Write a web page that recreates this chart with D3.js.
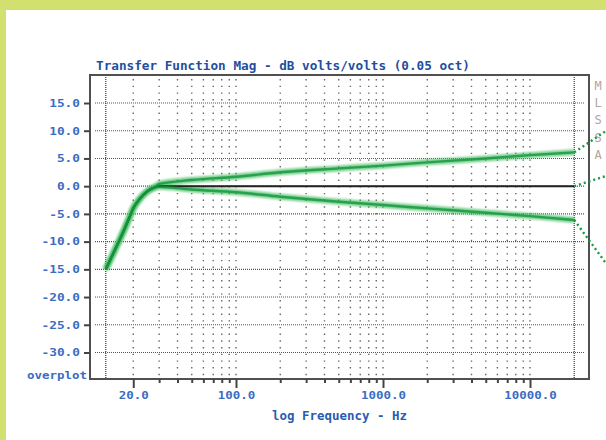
<!DOCTYPE html>
<html>
<head>
<meta charset="utf-8">
<script src="https://cdn.jsdelivr.net/npm/d3@7/dist/d3.min.js"></script>
<style>
  body { margin: 0; background: #d1e06f; }
  #chart { width: 606px; height: 440px; }
</style>
</head>
<body>
<div id="chart"></div>
<script>
var width = 606,
    height = 440;

// y ticks (dB) and x grid / labelled frequencies (Hz)
var yTicks = [15, 10, 5, 0, -5, -10, -15, -20, -25, -30];
var gridFreqs = [20, 30, 40, 50, 60, 70, 80, 90, 100,
    200, 300, 400, 500, 600, 700, 800, 900, 1000,
    2000, 3000, 4000, 5000, 6000, 7000, 8000, 9000, 10000];
var majorFreqs = [20, 100, 1000, 10000];
var majorLabels = ["20.0", "100.0", "1000.0", "10000.0"];
var sweepStart = 13, sweepEnd = 20000;

// low end roll-off shared by the three traces
var rollFreq = [13, 15, 17, 19, 20, 22, 25, 28];
var rollDb = [-15, -11.5, -8.4, -5.4, -4.0, -2.4, -0.9, -0.2];

// the two tilted traces and the flat one
var tiltFreq = [30, 50, 100, 200, 500, 1000, 2000, 5000, 10000, 20000];
var upperDb = [0.4, 1.1, 1.7, 2.5, 3.2, 3.7, 4.3, 5.0, 5.6, 6.1];
var lowerDb = [-0.1, -0.6, -1.1, -1.9, -2.8, -3.4, -4.0, -4.8, -5.4, -6.1];
var flatDb = [0, 0, 0, 0, 0, 0, 0, 0, 0, 0];

var yLabels = ["M", "L", "S", "S", "A"];

var svg = d3.select("#chart").append("svg")
    .attr("width", width)
    .attr("height", height);

var defs = svg.append("defs");
defs.append("filter").attr("id", "glow")
    .attr("x", "-10%").attr("y", "-10%").attr("width", "120%").attr("height", "120%")
    .append("feGaussianBlur").attr("stdDeviation", 1.2);

// white panel on the green page
svg.append("rect")
    .attr("x", 6).attr("y", 10)
    .attr("width", width - 6).attr("height", height - 10)
    .attr("fill", "#ffffff");

var x = d3.scaleLog().domain([100, 10000]).range([236, 530]);
var y = d3.scaleLinear().domain([15, -30]).range([103, 352.5]);

var plotLeft = 90, plotRight = 589, plotTop = 75, plotBottom = 379;
var mono = "'DejaVu Sans Mono', 'Liberation Mono', monospace";
var blue = "#3a6cc4";

// horizontal dotted grid
svg.append("g").selectAll("line")
    .data(yTicks)
    .enter().append("line")
    .attr("x1", 95).attr("x2", 584)
    .attr("y1", function (d) { return y(d); })
    .attr("y2", function (d) { return y(d); })
    .attr("stroke", "#555")
    .attr("stroke-width", 1.1)
    .attr("stroke-dasharray", "1,1");

// vertical sparse grid
svg.append("g").selectAll("line")
    .data(gridFreqs)
    .enter().append("line")
    .attr("x1", function (d) { return x(d); })
    .attr("x2", function (d) { return x(d); })
    .attr("y1", 79).attr("y2", 377)
    .attr("stroke", "#666")
    .attr("stroke-width", 1.4)
    .attr("stroke-dasharray", "1.4,5.3");

// sweep limits
svg.append("g").selectAll("line")
    .data([sweepStart, sweepEnd])
    .enter().append("line")
    .attr("x1", function (d) { return x(d); })
    .attr("x2", function (d) { return x(d); })
    .attr("y1", plotTop).attr("y2", plotBottom)
    .attr("stroke", "#444")
    .attr("stroke-width", 1.3)
    .attr("stroke-dasharray", "1,1");

// frame
svg.append("path")
    .attr("d", "M" + plotLeft + "," + plotTop + "H" + plotRight + "V" + plotBottom + "H" + plotLeft + "Z")
    .attr("fill", "none")
    .attr("stroke", "#505050")
    .attr("stroke-width", 2);

// y axis
var yAxis = svg.append("g")
    .attr("transform", "translate(" + plotLeft + ",0)")
    .call(d3.axisLeft(y)
        .tickValues(yTicks)
        .tickSize(6)
        .tickPadding(4)
        .tickFormat(function (d) { return d.toFixed(1); }));
yAxis.select(".domain").remove();
yAxis.selectAll("line").attr("stroke", "#444").attr("stroke-width", 2);
yAxis.selectAll("text")
    .attr("fill", blue)
    .attr("font-family", mono)
    .attr("font-weight", "bold")
    .attr("font-size", 10.5)
    .attr("textLength", function (d) { return d.toFixed(1).length * 7.7; })
    .attr("lengthAdjust", "spacingAndGlyphs");

svg.append("text")
    .attr("x", 87).attr("y", 379)
    .attr("text-anchor", "end")
    .attr("fill", blue)
    .attr("font-family", mono)
    .attr("font-weight", "bold")
    .attr("font-size", 10.5)
    .attr("textLength", 60)
    .attr("lengthAdjust", "spacingAndGlyphs")
    .text("overplot");

// x axis
var xAxis = svg.append("g")
    .attr("transform", "translate(0," + plotBottom + ")")
    .call(d3.axisBottom(x)
        .tickValues(gridFreqs)
        .tickSize(4)
        .tickPadding(9)
        .tickFormat(function (d) {
            var i = majorFreqs.indexOf(d);
            return i < 0 ? "" : majorLabels[i];
        }));
xAxis.select(".domain").remove();
xAxis.selectAll("line")
    .attr("stroke", "#444")
    .attr("stroke-width", 2)
    .attr("y2", function (d) { return majorFreqs.indexOf(d) < 0 ? 4 : 9; });
xAxis.selectAll("text")
    .attr("fill", blue)
    .attr("font-family", mono)
    .attr("font-weight", "bold")
    .attr("font-size", 10.5)
    .attr("y", 17)
    .attr("dy", "0.32em")
    .filter(function (d) { return majorFreqs.indexOf(d) >= 0; })
    .attr("textLength", function (d) { return majorLabels[majorFreqs.indexOf(d)].length * 7.5; })
    .attr("lengthAdjust", "spacingAndGlyphs");

// titles
svg.append("text")
    .attr("x", 96).attr("y", 70)
    .attr("fill", "#1f4f9e")
    .attr("font-family", mono)
    .attr("font-weight", "bold")
    .attr("font-size", 13)
    .attr("textLength", 374)
    .attr("lengthAdjust", "spacingAndGlyphs")
    .text("Transfer Function Mag - dB volts/volts (0.05 oct)");

svg.append("text")
    .attr("x", 272).attr("y", 420)
    .attr("fill", "#2a5cb0")
    .attr("font-family", mono)
    .attr("font-weight", "bold")
    .attr("font-size", 13)
    .attr("textLength", 135)
    .attr("lengthAdjust", "spacingAndGlyphs")
    .text("log Frequency - Hz");

svg.append("g").selectAll("text")
    .data(yLabels)
    .enter().append("text")
    .attr("x", 598)
    .attr("y", function (d, i) { return 90 + i * 17.2; })
    .attr("text-anchor", "middle")
    .attr("fill", "#b5a39f")
    .attr("font-family", mono)
    .attr("font-size", 12)
    .text(function (d) { return d; });

// traces
function trace(freqs, dbs) {
    var pts = rollFreq.map(function (f, i) { return [f, rollDb[i]]; });
    return pts.concat(freqs.map(function (f, i) { return [f, dbs[i]]; }));
}
var line = d3.line()
    .x(function (d) { return x(d[0]); })
    .y(function (d) { return y(d[1]); })
    .curve(d3.curveMonotoneX);

var upper = trace(tiltFreq, upperDb),
    lower = trace(tiltFreq, lowerDb),
    flat = trace(tiltFreq, flatDb);

var curves = svg.append("g");
[upper, lower].forEach(function (c) {
    curves.append("path")
        .attr("d", line(c))
        .attr("fill", "none")
        .attr("stroke", "#48bd66")
        .attr("stroke-width", 6)
        .attr("stroke-opacity", 0.75)
        .attr("filter", "url(#glow)");
});
curves.append("path")
    .attr("d", line(flat))
    .attr("fill", "none")
    .attr("stroke", "#222")
    .attr("stroke-width", 2);
[upper, lower].forEach(function (c) {
    curves.append("path")
        .attr("d", line(c))
        .attr("fill", "none")
        .attr("stroke", "#14963c")
        .attr("stroke-width", 2.4)
        .attr("stroke-opacity", 0.8);
});

// callout leaders running off the right edge
var ends = [upper, flat, lower].map(function (c) { return c[c.length - 1]; });
var leadTo = [[606, 131], [606, 176], [605, 262]];
svg.append("g").selectAll("line")
    .data(ends)
    .enter().append("line")
    .attr("x1", function (d) { return x(d[0]); })
    .attr("y1", function (d) { return y(d[1]); })
    .attr("x2", function (d, i) { return leadTo[i][0]; })
    .attr("y2", function (d, i) { return leadTo[i][1]; })
    .attr("stroke", "#149a40")
    .attr("stroke-width", 2.4)
    .attr("stroke-dasharray", "2,3");
</script>
</body>
</html>
